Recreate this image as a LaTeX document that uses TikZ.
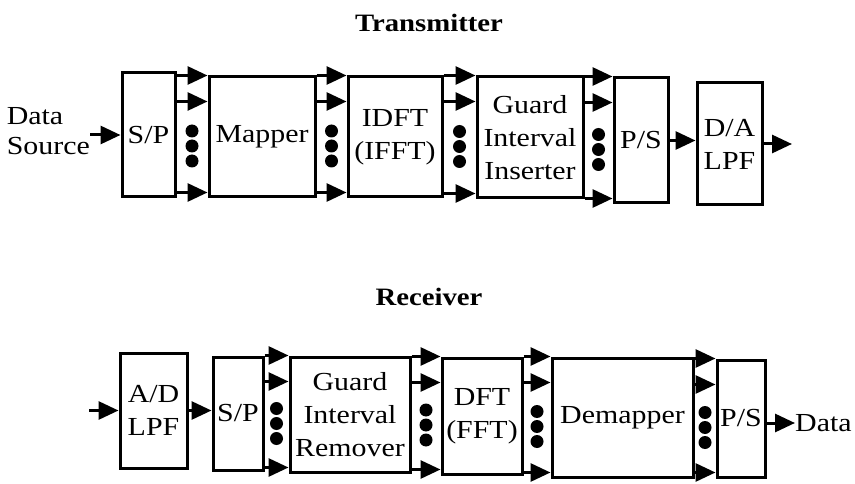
\documentclass[tikz,border=0pt]{standalone}
\usepackage{fontspec}
\setmainfont{Liberation Serif}[FakeStretch=1.15]
\usepackage{tikz}
\usetikzlibrary{arrows.meta,calc}
\tikzset{
  blk/.style={rectangle, draw=black, line width=3pt, fill=white, inner sep=1pt,
    align=center, font=\fontsize{26}{33}\selectfont},
  lbl/.style={inner sep=0pt, align=left, font=\fontsize{26}{30}\selectfont},
  ttl/.style={inner sep=0pt, font=\fontsize{25}{30}\selectfont\bfseries},
  arr/.style={-{Triangle[length=20pt,width=18pt]}, line width=3pt},
}

\begin{document}
\begin{tikzpicture}[x=1pt,y=-1pt]
  \useasboundingbox (0,0) rectangle (855,484);

  \node[ttl] (tx) at (429,23) {Transmitter};
  \node[blk, minimum width=53, minimum height=124] (sp1) at (148.5,135) {S/P};
  \node[blk, minimum width=106, minimum height=120] (map) at (262,137) {Mapper};
  \node[blk, minimum width=94, minimum height=120] (idft) at (395,137) {IDFT\\(IFFT)};
  \node[blk, minimum width=106, minimum height=121] (gii) at (530,137.5) {Guard\\Interval\\Inserter};
  \node[blk, minimum width=54, minimum height=125] (ps1) at (641,140.5) {P/S};
  \node[blk, minimum width=65, minimum height=122] (da) at (729.5,144) {D/A\\LPF};
  \node[lbl, anchor=east] (src) at (90,131) {Data\\Source};
  \coordinate (out1) at (792,144);

  \node[ttl] (rx) at (429,297) {Receiver};
  \node[blk, minimum width=67, minimum height=115] (ad) at (153.5,410.5) {A/D\\LPF};
  \node[blk, minimum width=50, minimum height=113] (sp2) at (238,413.5) {S/P};
  \node[blk, minimum width=120, minimum height=115] (gir) at (350,414.5) {Guard\\Interval\\Remover};
  \node[blk, minimum width=80, minimum height=116] (dft) at (482,416) {DFT\\(FFT)};
  \node[blk, minimum width=141, minimum height=119] (dem) at (622.5,417.5) {Demapper};
  \node[blk, minimum width=48, minimum height=117] (ps2) at (741,418.5) {P/S};
  \node[lbl, anchor=west] (dat) at (795,423) {Data};
  \coordinate (in2) at (89,410.5);

  \draw[arr] (sp1.west -| src.east) -- (sp1.west);
  \draw[arr] (ps1.east) -- (ps1.east -| da.west);
  \draw[arr] (da.east) -- (out1);
  \draw[arr] (in2) -- (ad.west);
  \draw[arr] (ad.east) -- (ad.east -| sp2.west);
  \draw[arr] (ps2.east |- dat.west) -- (dat.west);

  \foreach \a/\b in {sp1/map,map/idft,idft/gii,gii/ps1,sp2/gir,gir/dft,dft/dem,dem/ps2} {
    \coordinate (t1) at (\b.north west);
    \coordinate (t2) at ([yshift=-26pt]\b.north west);
    \coordinate (t3) at ([yshift=6pt]\b.south west);
    \draw[arr] (\a.east |- t1) -- (t1);
    \draw[arr] (\a.east |- t2) -- (t2);
    \draw[arr] (\a.east |- t3) -- (t3);
    \coordinate (m) at ($(\a.east |- \b.west)!0.5!(\b.west)$);
    \fill ([yshift=6pt]m) circle (6.5pt);
    \fill ([yshift=-9pt]m) circle (6.5pt);
    \fill ([yshift=-24pt]m) circle (6.5pt);
  }
\end{tikzpicture}
\end{document}
